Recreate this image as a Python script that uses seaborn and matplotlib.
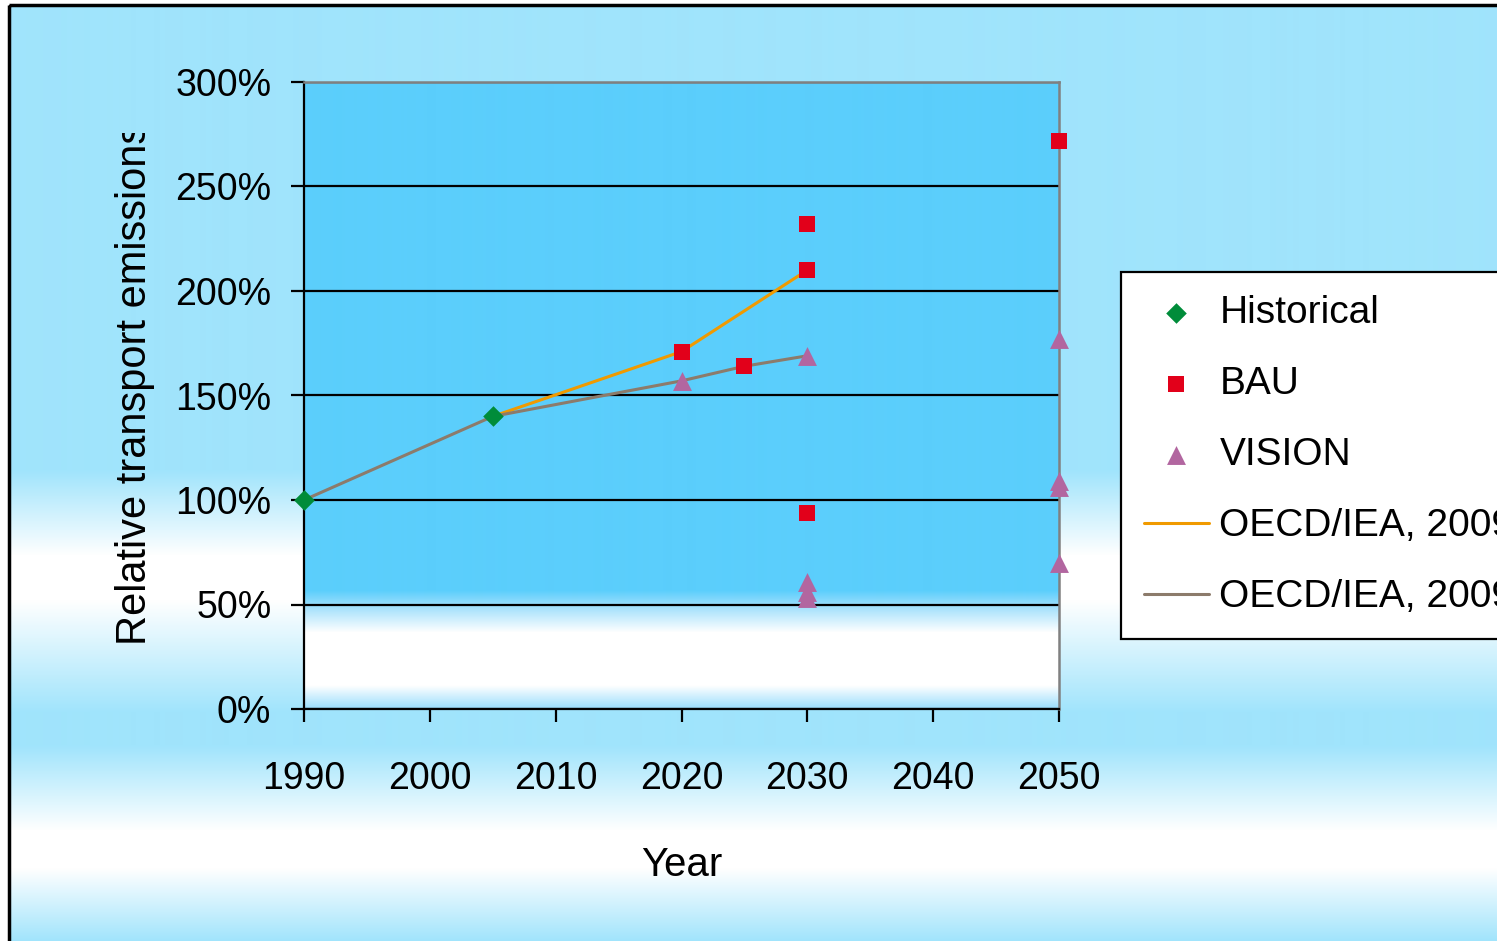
import numpy as np
import matplotlib
matplotlib.use('Agg')
import matplotlib.pyplot as plt
from matplotlib.patches import Rectangle
from matplotlib.transforms import Bbox
import seaborn as sns
import pandas as pd

# --- Data ---
hist_years = [1990, 2005]
hist_values = [100, 140]

bau_years = [2020, 2025, 2030, 2030, 2030, 2050]
bau_values = [171, 164, 232, 210, 94, 272]

vision_years = [2020, 2030, 2030, 2030, 2030, 2050, 2050, 2050, 2050]
vision_values = [157, 169, 61, 56, 53, 177, 109, 106, 70]

oecd_base_years = [2005, 2020, 2030]
oecd_base_values = [140, 171, 210]

oecd_blue_years = [1990, 2005, 2020, 2025, 2030]
oecd_blue_values = [100, 140, 157, 164, 169]

x_ticks = [1990, 2000, 2010, 2020, 2030, 2040, 2050]
y_ticks = [0, 50, 100, 150, 200, 250, 300]
y_tick_labels = ['0%', '50%', '100%', '150%', '200%', '250%', '300%']

labels = ['Historical', 'BAU', 'VISION',
          'OECD/IEA, 2009 Baseline', 'OECD/IEA, 2009 BLUE Map']

# --- Style ---
sns.set_theme(style='white')
plt.rcParams['font.family'] = ['Liberation Sans', 'DejaVu Sans']

W, H = 1497, 941
fig = plt.figure(figsize=(W / 100, H / 100), dpi=100)
fig.patch.set_facecolor('white')

LIGHT = (160, 228, 252)
WHITE = (255, 255, 255)
PLOT = (91, 206, 252)


def gradient(stops, colors, start, stop):
    rows = np.arange(start, stop)
    cols = np.array(colors, dtype=float) / 255
    img = np.stack([np.interp(rows, stops, cols[:, i]) for i in range(3)], axis=-1)
    return img[:, None, :]


# --- Outer background (banded gradient) ---
bg = fig.add_axes([0, 0, 1, 1], zorder=-5)
bg_img = gradient([0, 470, 555, 600, 712, 745, 830, 868, 941],
                  [LIGHT, LIGHT, WHITE, WHITE, LIGHT, LIGHT, WHITE, WHITE, LIGHT], 5, H)
bg.imshow(bg_img, extent=(9, W, H, 5), aspect='auto', interpolation='bilinear')
bg.add_patch(Rectangle((9, 5), W, H, fill=False, edgecolor='black', lw=2.5))
bg.set_xlim(0, W)
bg.set_ylim(H, 0)
bg.axis('off')

# --- Plot area ---
ax = fig.add_axes([304 / W, 1 - 709 / H, (1059 - 304) / W, (709 - 82) / H])
plot_img = gradient([82, 590, 607, 632, 685, 709],
                    [PLOT, PLOT, (165, 225, 252), WHITE, WHITE, (150, 220, 252)], 82, 709)
ax.imshow(plot_img, extent=(0, 1, 0, 1), transform=ax.transAxes, aspect='auto',
          interpolation='bilinear', zorder=-1)

sns.scatterplot(x=hist_years, y=hist_values, marker='D', s=110, color='#008C3A',
                linewidth=0, label=labels[0], zorder=4, clip_on=False, ax=ax)
sns.scatterplot(x=bau_years, y=bau_values, marker='s', s=120, color='#E2001A',
                linewidth=0, label=labels[1], zorder=4, clip_on=False, ax=ax)
sns.scatterplot(x=vision_years, y=vision_values, marker='^', s=185, color='#B266A0',
                linewidth=0, label=labels[2], zorder=4, clip_on=False, ax=ax)
sns.lineplot(x=oecd_base_years, y=oecd_base_values, color='#F09A00', lw=2.2,
             label=labels[3], zorder=3, ax=ax)
sns.lineplot(x=oecd_blue_years, y=oecd_blue_values, color='#8C7B6B', lw=2.2,
             label=labels[4], zorder=3, ax=ax)

ax.set_xlim(1990, 2050)
ax.set_ylim(0, 300)
ax.set_xticks(x_ticks)
ax.set_yticks(y_ticks)
ax.set_yticklabels(y_tick_labels)
ax.grid(axis='y', color='black', lw=1.6)
ax.grid(axis='x', visible=False)

for side in ['left', 'bottom']:
    ax.spines[side].set_color('black')
    ax.spines[side].set_linewidth(1.6)
for side in ['top', 'right']:
    ax.spines[side].set_color('#808080')
    ax.spines[side].set_linewidth(1.8)

ax.tick_params(axis='both', bottom=True, left=True, direction='out', length=9.5,
               width=1.6, color='black', labelsize=27, labelcolor='black')
ax.tick_params(axis='x', pad=28)
ax.tick_params(axis='y', pad=14)

ax.set_xlabel('Year', fontsize=29, color='black')
ax.xaxis.set_label_coords(0.5, (709 - 846) / 627)
ax.set_ylabel('')

ylab = fig.text(135 / W, 1 - 645 / H, 'Relative transport emissions', rotation=90,
                ha='center', va='bottom', fontsize=30, color='black')
ylab.set_clip_box(Bbox.from_extents(0, 0, W, H - 133))
ylab.set_clip_on(True)

# --- Legend ---
leg = ax.legend(loc='upper left', bbox_to_anchor=(1121 / W, 1 - 272 / H),
                bbox_transform=fig.transFigure, frameon=True, fancybox=False,
                edgecolor='black', framealpha=1, facecolor='white', borderaxespad=0,
                fontsize=28, labelspacing=0.9, handlelength=1.65, handletextpad=0.28,
                borderpad=0.6, scatterpoints=1)
leg.get_frame().set_linewidth(1.6)
for t in leg.get_texts():
    t.set_color('black')

fig.savefig('out.png', dpi=100)
